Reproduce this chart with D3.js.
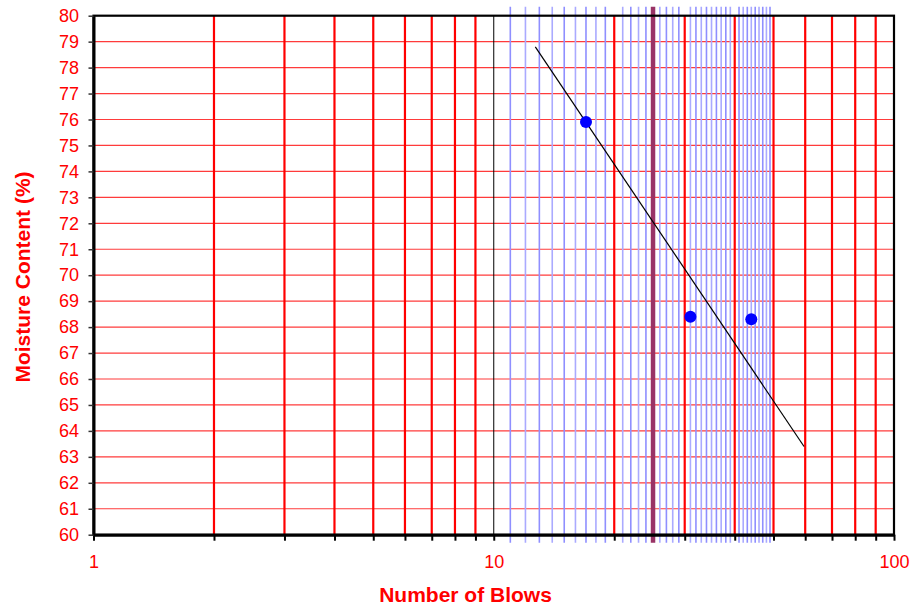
<!DOCTYPE html>
<meta charset="utf-8">
<body style="margin:0;background:#fff">
<script src="https://d3js.org/d3.v7.min.js"></script>
<div id="chart"></div>
<script>

// data
var blows = [17, 31, 44];
var moisture = [75.9, 68.4, 68.3];

// trend line end points (log fit drawn in the original)
var trendBlows = [12.7, 59.6];
var trendMoisture = [78.8, 63.4];

// grid / tick values
var majorX = [1, 10, 100];
var redX = [2, 3, 4, 5, 6, 7, 8, 9, 20, 30, 40, 50, 60, 70, 80, 90];
var blueX = d3.range(11, 50);
var liquidLimit = 25;
var yTicks = d3.range(60, 81);

var W = 915, H = 607;
var margin = {top: 15.7, right: 21, bottom: 72.3, left: 93.5},
    width = W - margin.left - margin.right,
    height = H - margin.top - margin.bottom;

var x = d3.scaleLog().domain([1, 100]).range([0, width]);
var y = d3.scaleLinear().domain([60, 80]).range([height, 0]);

var svg = d3.select("#chart")
  .append("svg")
    .attr("width", W)
    .attr("height", H)
    .style("font-family", "Arial, 'Liberation Sans', sans-serif")
  .append("g")
    .attr("transform", "translate(" + margin.left + "," + margin.top + ")");

// horizontal red grid
svg.selectAll(".hgrid")
  .data(yTicks.filter(function(d){ return d > 60 && d < 80; }))
  .enter().append("line")
    .attr("x1", 0).attr("x2", width)
    .attr("y1", function(d){ return y(d); })
    .attr("y2", function(d){ return y(d); })
    .style("stroke", "#ff3b3b")
    .style("stroke-width", 1.2);

// red verticals
svg.selectAll(".vred")
  .data(redX)
  .enter().append("line")
    .attr("x1", function(d){ return x(d); })
    .attr("x2", function(d){ return x(d); })
    .attr("y1", 0).attr("y2", height)
    .style("stroke", "#ff0000")
    .style("stroke-width", 2.2);

// black line at 10
svg.append("line")
    .attr("x1", x(10)).attr("x2", x(10))
    .attr("y1", 0).attr("y2", height)
    .style("stroke", "#000")
    .style("stroke-width", 1);

// light blue fine lines 11..49
svg.selectAll(".vblue")
  .data(blueX.filter(function(d){ return redX.indexOf(d) < 0 && d != liquidLimit; }))
  .enter().append("line")
    .attr("x1", function(d){ return x(d); })
    .attr("x2", function(d){ return x(d); })
    .attr("y1", -9).attr("y2", height + 8)
    .style("stroke", function(d, i){ return i % 2 ? "#aaaaff" : "#8f8fff"; })
    .style("stroke-width", 1.6);

// liquid limit line at 25 blows
svg.append("line")
    .attr("x1", x(liquidLimit)).attr("x2", x(liquidLimit))
    .attr("y1", -9).attr("y2", height + 8)
    .style("stroke", "#993366")
    .style("stroke-width", 4.5);

// frame
svg.append("rect")
    .attr("x", 0).attr("y", 0)
    .attr("width", width).attr("height", height)
    .style("fill", "none")
    .style("stroke", "#000")
    .style("stroke-width", 2.2);

// X axis
var xAxis = svg.append("g")
    .attr("transform", "translate(0," + height + ")")
    .call(d3.axisBottom(x)
      .tickValues(majorX.concat(redX))
      .tickSizeInner(6)
      .tickSizeOuter(0)
      .tickPadding(14.5)
      .tickFormat(function(d){ return majorX.indexOf(d) >= 0 ? d : ""; }));
xAxis.select(".domain").style("stroke", "#000").style("stroke-width", 3);
xAxis.selectAll(".tick line").style("stroke", "#000").style("stroke-width", 2);
xAxis.selectAll("text").style("fill", "#ff0000").style("font-size", "18px");

// Y axis
var yAxis = svg.append("g")
    .call(d3.axisLeft(y)
      .tickValues(yTicks)
      .tickSizeInner(5)
      .tickSizeOuter(0)
      .tickPadding(9.5));
yAxis.select(".domain").style("stroke", "#000").style("stroke-width", 3);
yAxis.selectAll(".tick line").style("stroke", "#333").style("stroke-width", 1.5);
yAxis.selectAll("text").style("fill", "#ff0000").style("font-size", "18px");

// trend line
var line = d3.line()
    .x(function(d){ return x(d[0]); })
    .y(function(d){ return y(d[1]); });
svg.append("path")
    .datum(d3.zip(trendBlows, trendMoisture))
    .attr("d", line)
    .style("fill", "none")
    .style("stroke", "#000")
    .style("stroke-width", 1.2);

// points
svg.selectAll(".pt")
  .data(d3.zip(blows, moisture))
  .enter().append("circle")
    .attr("cx", function(d){ return x(d[0]); })
    .attr("cy", function(d){ return y(d[1]); })
    .attr("r", 6)
    .style("fill", "#0000ff");

// axis titles
svg.append("text")
    .attr("text-anchor", "middle")
    .attr("x", 465.5 - margin.left)
    .attr("y", 602 - margin.top)
    .style("fill", "#ff0000")
    .style("font-weight", "bold")
    .style("font-size", "21px")
    .text("Number of Blows");

svg.append("text")
    .attr("text-anchor", "middle")
    .attr("transform", "translate(" + (30 - margin.left) + "," + (277 - margin.top) + ") rotate(-90)")
    .style("fill", "#ff0000")
    .style("font-weight", "bold")
    .style("font-size", "21px")
    .text("Moisture Content (%)");

</script>
</body>
